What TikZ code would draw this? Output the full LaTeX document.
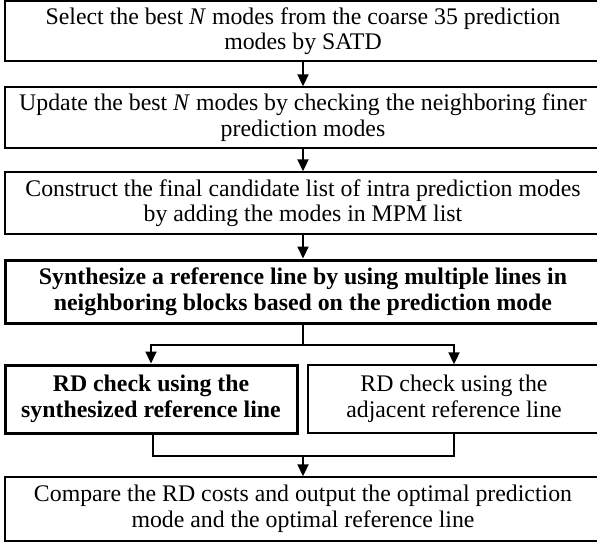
\documentclass[tikz,border=0pt]{standalone}
\usepackage{fontspec}
\setmainfont{Liberation Serif}
\usetikzlibrary{arrows.meta,calc}
\begin{document}
\begin{tikzpicture}[x=1pt,y=-1pt,
  box/.style={draw,line width=1.4pt,inner sep=0pt,align=center,font=\fontsize{23.8}{25.5}\selectfont},
  boldbox/.style={box,line width=3pt,font=\fontsize{23.8}{25.5}\selectfont\bfseries},
  arr/.style={line width=2pt,-{Triangle[width=11pt,length=12pt]}},
  ln/.style={line width=2pt}]
\useasboundingbox (0,0) rectangle (597,544);
\node[box,minimum width=596pt,minimum height=60pt] (b1) at (303,31) {Select the best \textit{N} modes from the coarse 35 prediction\\modes by SATD};
\node[box,minimum width=596pt,minimum height=61pt] (b2) at (303,117.5) {Update the best \textit{N} modes by checking the neighboring finer\\prediction modes};
\node[box,minimum width=596pt,minimum height=62pt] (b3) at (303,203) {Construct the final candidate list of intra prediction modes\\by adding the modes in MPM list};
\node[boldbox,minimum width=596pt,minimum height=63pt] (b4) at (303,291.5) {Synthesize a reference line by using multiple lines in\\neighboring blocks based on the prediction mode};
\node[boldbox,minimum width=292pt,minimum height=68pt] (b5) at (151,399) {RD check using the\\synthesized reference line};
\node[box,minimum width=292pt,minimum height=68pt] (b6) at (454,399) {RD check using the\\adjacent reference line};
\node[box,minimum width=596pt,minimum height=64pt] (b7) at (303,509) {Compare the RD costs and output the optimal prediction\\mode and the optimal reference line};
\coordinate (sp) at (303,345);
\coordinate (mg) at (303,456);
\draw[arr] (b1) -- (b2);
\draw[arr] (b2) -- (b3);
\draw[arr] (b3) -- (b4);
\draw[ln] (b4.south) -- (sp);
\draw[arr] (sp) -| (b5.north);
\draw[arr] (sp) -| (b6.north);
\draw[ln] ($(b5.south)+(2,0)$) |- (mg);
\draw[ln] (b6.south) |- (mg);
\draw[arr] (mg) -- (b7.north);
\end{tikzpicture}
\end{document}
